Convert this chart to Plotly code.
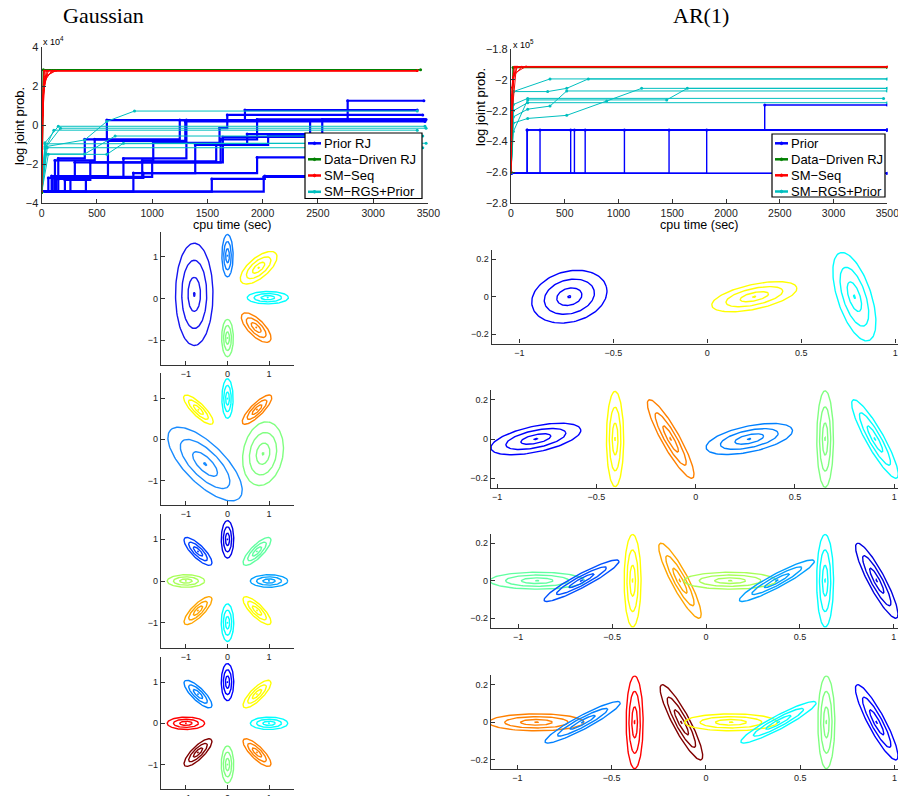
import numpy as np
import plotly.graph_objects as go

W, H = 898, 796
FONT = "Liberation Sans, Arial, sans-serif"
SERIF = "Liberation Serif, DejaVu Serif, serif"
AXC = "#333333"

# ---------------- Top-left: Gaussian, log joint prob. (x 1e4) ----------------
G_PRIOR_T = [
    [0, 100, 150, 390, 590, 2770, 3460],
    [0, 120, 480, 1250, 1840, 3400],
    [0, 60, 910, 1010, 1610, 1680, 3450],
    [0, 130, 740, 1310, 3470],
    [0, 210, 440, 1620, 1950, 3480],
    [0, 830, 1390, 1860, 2430, 3470],
    [0, 1540, 2020, 3400],
    [0, 2010, 3400],
    [0, 400, 920, 1950, 2430, 3300],
    [0, 260, 1000, 1580, 2050, 2540, 3460],
    [0, 150, 300, 1640, 3380],
    [0, 90, 600, 1300, 3470],
]
G_PRIOR_V = [
    [-3.4, -2.7, -1.7, -0.72, 0.27, 1.26, 1.26],
    [-3.4, -1.8, -0.72, 0.27, 0.78, 0.78],
    [-3.4, -2.7, -1.8, -0.9, -0.15, 0.53, 0.53],
    [-3.4, -2.7, -1.7, 0.27, 0.27],
    [-3.4, -2.8, -1.9, -0.72, 0.3, 0.3],
    [-3.4, -2.45, -1.0, -0.45, 0.24, 0.24],
    [-3.4, -2.75, -2.6, -2.6],
    [-3.4, -2.65, -2.65],
    [-3.4, -2.7, -2.45, -1.65, -0.72, -0.72],
    [-3.4, -2.65, -1.85, -1.0, -0.5, 0.3, 0.3],
    [-3.4, -2.75, -1.9, -0.6, -0.6],
    [-3.4, -2.6, -0.8, 0.2, 0.2],
]
G_DD_T = [[0, 15, 3430]]
G_DD_V = [[-3.45, 2.85, 2.85]]
G_SEQ_T = [[0, 8, 25, 3400], [0, 10, 40, 3400], [0, 15, 60, 3400], [0, 20, 90, 3400],
           [0, 30, 130, 3400], [0, 12, 50, 3400], [0, 5, 20, 3400], [0, 25, 110, 3400]]
G_SEQ_V = [[-3.4, 0.5, 2.8, 2.8], [-2.0, 1.2, 2.8, 2.8], [-1.0, 1.8, 2.8, 2.8], [-3.0, 2.2, 2.8, 2.8],
           [-0.5, 2.5, 2.8, 2.8], [-2.5, 1.5, 2.8, 2.8], [-1.5, 1.0, 2.8, 2.8], [0.0, 2.4, 2.8, 2.8]]
G_RGS_T = [
    [0, 30, 390, 590, 840, 3400],
    [0, 30, 150, 3470],
    [0, 40, 170, 3480],
    [0, 30, 110, 3400],
    [0, 40, 390, 665, 3450],
    [0, 30, 3480],
    [0, 50, 3450],
    [0, 60, 590, 740, 3300],
]
G_RGS_V = [
    [-3.45, -1.1, -0.75, 0.2, 0.73, 0.73],
    [-3.45, -0.9, -0.05, -0.05],
    [-3.45, -1.1, -0.15, -0.15],
    [-3.45, -1.2, -0.25, -0.25],
    [-3.45, -1.47, -1.47, -0.55, -0.55],
    [-3.45, -0.95, -0.92],
    [-3.45, -1.15, -1.15],
    [-3.45, -1.49, -1.49, -0.92, -0.92],
]

# ---------------- Top-right: AR(1), log joint prob. (x 1e5) ----------------
A_PRIOR_T = [[0, 3500], [0, 3500], [0, 3500],
             [0, 150, 3500], [0, 270, 3500], [0, 555, 3500], [0, 590, 3500],
             [0, 690, 3500], [0, 1055, 3500], [0, 1470, 3500], [0, 1820, 3500],
             [0, 150, 2360, 3500]]
A_PRIOR_V = [[-2.606, -2.606], [-2.606, -2.606], [-2.606, -2.606],
             [-2.606, -2.325, -2.325], [-2.606, -2.325, -2.325], [-2.606, -2.325, -2.325],
             [-2.606, -2.325, -2.325], [-2.606, -2.325, -2.325], [-2.606, -2.325, -2.325],
             [-2.606, -2.325, -2.325], [-2.606, -2.325, -2.325],
             [-2.606, -2.325, -2.163, -2.163]]
A_DD_T = [[0, 20, 3500]]
A_DD_V = [[-2.6, -1.92, -1.92]]
A_SEQ_T = [[0, 10, 40, 3500], [0, 15, 60, 3500], [0, 20, 100, 3500],
           [0, 8, 30, 3500], [0, 25, 140, 3500], [0, 12, 50, 3500]]
A_SEQ_V = [[-2.6, -2.1, -1.915, -1.915], [-2.45, -2.0, -1.915, -1.915], [-2.3, -1.98, -1.915, -1.915],
           [-2.55, -2.05, -1.915, -1.915], [-2.2, -1.96, -1.913, -1.913], [-2.6, -2.2, -1.915, -1.915]]
A_RGS_T = [
    [0, 22, 363, 3500],
    [0, 22, 341, 518, 719, 3500],
    [0, 22, 155, 3465],
    [0, 22, 155, 1448, 1640, 3500],
    [0, 22, 155, 363, 518, 3500],
    [0, 22, 155, 518, 890, 1215, 3500],
    [0, 22, 155, 3500],
]
A_RGS_V = [
    [-2.6, -2.076, -1.994, -1.994],
    [-2.6, -2.076, -2.076, -2.055, -1.994, -1.994],
    [-2.6, -2.16, -2.12, -2.12],
    [-2.6, -2.335, -2.13, -2.13, -2.055, -2.055],
    [-2.6, -2.24, -2.19, -2.17, -2.072, -2.072],
    [-2.6, -2.28, -2.25, -2.23, -2.137, -2.055, -2.055],
    [-2.6, -2.2, -2.148, -2.148],
]

# ---------------- Mixture components: (cx, cy, sigma_major, sigma_minor, angle_deg, color) ----------------
RING_SIGMAS = [0.12, 1, 2, 3]
GAUSS_ROWS = [
    [(-0.8, 0.1, 0.41, 0.15, 90, "#1414f0"),
     (0.0, 1.03, 0.17, 0.045, 90, "#0a7dff"),
     (0.75, 0.74, 0.18, 0.08, 40, "#ffff00"),
     (0.97, 0.02, 0.165, 0.05, 0, "#00ffff"),
     (0.69, -0.70, 0.155, 0.065, -45, "#ff8000"),
     (0.0, -0.95, 0.15, 0.047, 90, "#80ff80")],
    [(0.0, 0.99, 0.16, 0.045, 90, "#00ffff"),
     (-0.7, 0.72, 0.16, 0.05, 135, "#ffff00"),
     (0.71, 0.72, 0.16, 0.05, 45, "#ff8000"),
     (-0.54, -0.6, 0.39, 0.16, 135, "#1a8cff"),
     (0.855, -0.35, 0.26, 0.16, 80, "#80ff80")],
    [(0.0, 1.0, 0.15, 0.05, 90, "#0000e6"),
     (0.71, 0.71, 0.15, 0.05, 45, "#60ffa0"),
     (1.0, 0.0, 0.15, 0.05, 0, "#00a0ff"),
     (0.71, -0.71, 0.15, 0.05, -45, "#ffff00"),
     (0.0, -1.0, 0.15, 0.05, 90, "#00ffff"),
     (-0.71, -0.71, 0.15, 0.05, 45, "#ffa500"),
     (-1.0, 0.0, 0.15, 0.05, 0, "#a8ff58"),
     (-0.71, 0.71, 0.15, 0.05, 135, "#0040ff")],
    [(0.0, 1.0, 0.15, 0.05, 90, "#0000ff"),
     (0.71, 0.71, 0.15, 0.05, 45, "#ffff00"),
     (1.0, 0.0, 0.15, 0.05, 0, "#00ffff"),
     (0.71, -0.71, 0.15, 0.05, -45, "#ff8000"),
     (0.0, -1.0, 0.15, 0.05, 90, "#80ff80"),
     (-0.71, -0.71, 0.15, 0.05, 45, "#800000"),
     (-1.0, 0.0, 0.15, 0.05, 0, "#ff0000"),
     (-0.71, 0.71, 0.15, 0.05, 135, "#0080ff")],
]
AR_ROWS = [
    [(-0.734, 0, 0.068, 0.045, 15, "#0000ff"),
     (0.25, 0, 0.077, 0.022, 12, "#ffff00"),
     (0.782, 0, 0.082, 0.03, 108, "#00ffff")],
    [(-0.805, 0, 0.077, 0.022, 12, "#0000ff"),
     (-0.406, 0, 0.081, 0.0145, 90, "#ffff00"),
     (-0.126, 0, 0.076, 0.015, 119, "#ff8000"),
     (0.27, 0, 0.074, 0.022, 12, "#0080ff"),
     (0.652, 0, 0.082, 0.014, 90, "#80ff80"),
     (0.903, 0, 0.076, 0.015, 119, "#00ffff")],
    [(-0.899, 0, 0.084, 0.015, 0, "#60ffa0"),
     (-0.663, 0, 0.075, 0.012, 28, "#0050ff"),
     (-0.391, 0, 0.082, 0.015, 90, "#ffff00"),
     (-0.139, 0, 0.075, 0.015, 118, "#ffa500"),
     (0.128, 0, 0.082, 0.015, 0, "#a8ff58"),
     (0.377, 0, 0.075, 0.012, 28, "#00a0ff"),
     (0.634, 0, 0.082, 0.015, 90, "#00ffff"),
     (0.909, 0, 0.075, 0.015, 118, "#0000e0")],
    [(-0.899, 0, 0.084, 0.015, 0, "#ff8000"),
     (-0.654, 0, 0.075, 0.012, 28, "#0080ff"),
     (-0.378, 0, 0.082, 0.015, 90, "#ff0000"),
     (-0.13, 0, 0.075, 0.015, 118, "#800000"),
     (0.133, 0, 0.082, 0.015, 0, "#ffff00"),
     (0.385, 0, 0.075, 0.012, 28, "#00ffff"),
     (0.639, 0, 0.082, 0.015, 90, "#80ff80"),
     (0.906, 0, 0.075, 0.015, 118, "#0000ff")],
]

GAUSS_LABELS = ["Prior RJ", "Data\u2212Driven RJ", "SM\u2212Seq", "SM\u2212RGS+Prior"]
AR_LABELS = ["Prior", "Data\u2212Driven RJ", "SM\u2212Seq", "SM\u2212RGS+Prior"]
COL_PRIOR, COL_DD, COL_SEQ, COL_RGS = "#0000ff", "#008000", "#ff0000", "#00bfbf"
LEG_COLORS = [COL_PRIOR, COL_DD, COL_SEQ, COL_RGS]

fig = go.Figure()


def dx(a, b):
    return [max(0, a / W), min(1, b / W)]


def dy(a, b):
    return [max(0, 1 - b / H), min(1, 1 - a / H)]


def px(x):
    return x / W


def py(y):
    return 1 - y / H


def add_runs(ts, vs, color, width, xa, ya, shape="linear", msize=3):
    for t, v in zip(ts, vs):
        fig.add_trace(go.Scatter(x=t, y=v, mode="lines+markers",
                                 line=dict(color=color, width=width, shape=shape),
                                 marker=dict(size=msize, color=color),
                                 showlegend=False, hoverinfo="skip", xaxis=xa, yaxis=ya))


def ellipse(cx, cy, sa, sb, ang):
    th = np.linspace(0, 2 * np.pi, 121)
    c, s = np.cos(np.radians(ang)), np.sin(np.radians(ang))
    xs, ys = [], []
    for k in RING_SIGMAS:
        u = k * sa * np.cos(th)
        w = k * sb * np.sin(th)
        xs += list(cx + u * c - w * s) + [None]
        ys += list(cy + u * s + w * c) + [None]
    return xs, ys


# top-left
add_runs(G_PRIOR_T, G_PRIOR_V, COL_PRIOR, 2.2, "x", "y", shape="hv")
add_runs(G_RGS_T, G_RGS_V, COL_RGS, 1, "x", "y")
add_runs(G_DD_T, G_DD_V, COL_DD, 1.6, "x", "y")
add_runs(G_SEQ_T, G_SEQ_V, COL_SEQ, 1, "x", "y", msize=2)
# top-right
add_runs(A_PRIOR_T, A_PRIOR_V, COL_PRIOR, 1.4, "x2", "y2", shape="hv")
add_runs(A_RGS_T, A_RGS_V, COL_RGS, 1, "x2", "y2")
add_runs(A_DD_T, A_DD_V, COL_DD, 1.6, "x2", "y2")
add_runs(A_SEQ_T, A_SEQ_V, COL_SEQ, 1, "x2", "y2", msize=2)

# contour panels
for i, comps in enumerate(GAUSS_ROWS):
    n = 3 + i
    for (cx, cy, sa, sb, ang, col) in comps:
        xs, ys = ellipse(cx, cy, sa, sb, ang)
        fig.add_trace(go.Scatter(x=xs, y=ys, mode="lines", line=dict(color=col, width=1.4),
                                 showlegend=False, hoverinfo="skip",
                                 xaxis=f"x{n}", yaxis=f"y{n}"))
for i, comps in enumerate(AR_ROWS):
    n = 7 + i
    for (cx, cy, sa, sb, ang, col) in comps:
        xs, ys = ellipse(cx, cy, sa, sb, ang)
        fig.add_trace(go.Scatter(x=xs, y=ys, mode="lines", line=dict(color=col, width=1.4),
                                 showlegend=False, hoverinfo="skip",
                                 xaxis=f"x{n}", yaxis=f"y{n}"))


def ax(domain, rng, tickvals, anchor, size=9):
    return dict(domain=domain, range=rng, tickvals=tickvals, anchor=anchor,
                showline=True, linecolor=AXC, linewidth=1.4, ticks="inside", ticklen=4,
                tickcolor=AXC, tickwidth=1, showgrid=False, zeroline=False, automargin=False,
                ticklabeloverflow="allow",
                tickfont=dict(family=FONT, size=size, color="#222222"), fixedrange=True)


layout = dict(width=W, height=H, autosize=False, margin=dict(l=0, r=0, t=0, b=0, pad=0, autoexpand=False),
              paper_bgcolor="white", plot_bgcolor="rgba(0,0,0,0)", showlegend=False)

layout["xaxis"] = ax(dx(41.7, 428.3), [0, 3500], [0, 500, 1000, 1500, 2000, 2500, 3000, 3500], "y", 10.5)
layout["yaxis"] = ax(dy(47.3, 203.3), [-4, 4], [-4, -2, 0, 2, 4], "x", 11)
layout["xaxis2"] = ax(dx(511, 887.3), [0, 3500], [0, 500, 1000, 1500, 2000, 2500, 3000, 3500], "y2", 10.5)
layout["yaxis2"] = ax(dy(49, 203.3), [-2.8, -1.8], [-2.8, -2.6, -2.4, -2.2, -2.0, -1.8], "x2", 11)
layout["yaxis2"]["ticktext"] = ["\u22122.8", "\u22122.6", "\u22122.4", "\u22122.2", "\u22122", "\u22121.8"]

left_rows = [(232, 365), (373.4, 505.2), (514.3, 647.7), (657.4, 789.2)]
for i, (a, b) in enumerate(left_rows):
    n = 3 + i
    layout[f"xaxis{n}"] = ax(dx(161, 294), [-1.6, 1.6], [-1, 0, 1], f"y{n}")
    layout[f"yaxis{n}"] = ax(dy(a, b), [-1.6, 1.6], [-1, 0, 1], f"x{n}")

right_rows = [((491.7, 898), (-1.147, 1.014), (249.8, 343.6)),
              ((491, 898), (-1.031, 1.019), (390, 488)),
              ((491, 898), (-1.145, 1.022), (533.7, 627.7)),
              ((491, 898), (-1.14, 1.019), (675.2, 769.4))]
for i, (xd, xr, yd) in enumerate(right_rows):
    n = 7 + i
    layout[f"xaxis{n}"] = ax(dx(*xd), list(xr), [-1, -0.5, 0, 0.5, 1], f"y{n}")
    layout[f"yaxis{n}"] = ax(dy(*yd), [-0.25, 0.25], [-0.2, 0, 0.2], f"x{n}")


def pa(x, y, text, size, family=FONT, angle=0, xanchor="center", yanchor="middle"):
    return dict(x=px(x), y=py(y), xref="paper", yref="paper", text=text, showarrow=False,
                font=dict(family=family, size=size, color="black"), textangle=angle,
                xanchor=xanchor, yanchor=yanchor)


annotations = [
    pa(103, 16, "Gaussian", 22, SERIF),
    pa(701, 16, "AR(1)", 22, SERIF),
    pa(41, 41, "x 10<sup>4</sup>", 9, xanchor="left"),
    pa(511, 44, "x 10<sup>5</sup>", 9, xanchor="left"),
    pa(20, 126, "log joint prob.", 13, angle=-90),
    pa(480, 107, "log joint prob.", 13, angle=-90),
    pa(232, 225, "cpu time (sec)", 12.5),
    pa(699, 225, "cpu time (sec)", 12.5),
]
shapes = []


def legend_box(x0, y0, x1, y1, rows_y, lx0, lx1, tx, labels):
    shapes.append(dict(type="rect", xref="paper", yref="paper", x0=px(x0), x1=px(x1),
                       y0=py(y1), y1=py(y0), line=dict(color="black", width=1.2),
                       fillcolor="white", layer="above"))
    for yy, lab, col in zip(rows_y, labels, LEG_COLORS):
        shapes.append(dict(type="line", xref="paper", yref="paper", x0=px(lx0), x1=px(lx1),
                           y0=py(yy), y1=py(yy), line=dict(color=col, width=2.5), layer="above"))
        xm = (lx0 + lx1) / 2
        shapes.append(dict(type="circle", xref="paper", yref="paper", x0=px(xm - 1.3), x1=px(xm + 1.3),
                           y0=py(yy + 1.3), y1=py(yy - 1.3), line=dict(color=col, width=1),
                           fillcolor=col, layer="above"))
        annotations.append(pa(tx, yy, lab, 13, xanchor="left"))


legend_box(305, 133, 422, 198.5, [143.3, 159.3, 175.5, 191.8], 308, 321, 322, GAUSS_LABELS)
legend_box(772, 134, 885, 197, [143.3, 159.3, 175.3, 191.5], 775, 788, 788.5, AR_LABELS)

layout["annotations"] = annotations
layout["shapes"] = shapes

fig.update_layout(**layout)
fig.write_html(
    "out.html",
    config={"responsive": False},
    post_script="document.body.style.margin='0';document.body.style.overflow='hidden';",
)
